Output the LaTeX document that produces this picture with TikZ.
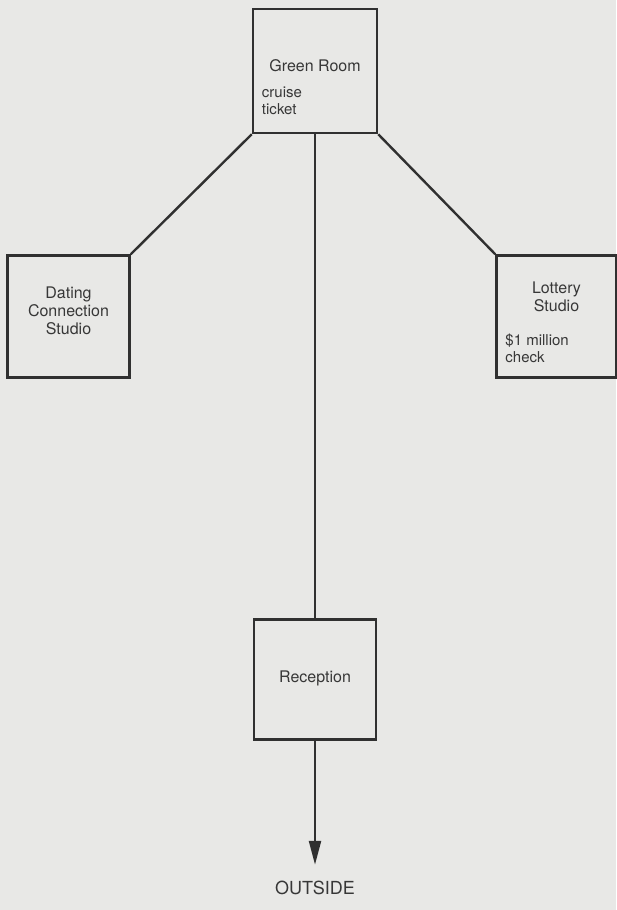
\documentclass[tikz,border=0pt]{standalone}
\usepackage{fontspec}
\setmainfont{TeX Gyre Heros}
\usetikzlibrary{arrows.meta, positioning}
\definecolor{scanbg}{RGB}{232,232,230}
\definecolor{inkgray}{RGB}{48,48,48}
\definecolor{txtgray}{RGB}{55,55,55}

\begin{document}
\begin{tikzpicture}[
    x=1pt, y=1pt,
    >={Triangle[length=24pt, width=12pt]},
    room/.style={draw=inkgray, line width=2.5pt, inner sep=0pt,
                 minimum width=122pt, minimum height=122pt},
    lbl/.style={font=\fontsize{16}{18}\selectfont, text=txtgray, align=center, inner sep=0pt},
    item/.style={font=\fontsize{15}{17}\selectfont, text=txtgray, align=left, inner sep=0pt},
    link/.style={draw=inkgray, line width=2.4pt},
]

% scanned page
\fill[scanbg] (0,0) rectangle (616,-910);
\useasboundingbox (0,0) rectangle (616,-910);

% rooms
\node[room, minimum width=124pt, minimum height=124pt] (green) at (315,-71) {};
\node[room, below left=120pt and 121pt of green] (dating) {};
\node[room, below right=120pt and 117pt of green, minimum width=120pt] (lottery) {};
\node[room, below=484pt of green, minimum height=120pt] (reception) {};
\coordinate (exit) at ([yshift=-124pt]reception.south);

% room texts
\node[lbl] (greenlbl) at ([yshift=5pt]green.center) {Green Room};
\node[item, anchor=north west] (cruise) at ([xshift=10pt,yshift=-16pt]green.west) {cruise\\ticket};
\node[lbl] (datinglbl) at ([yshift=6pt]dating.center) {Dating\\Connection\\Studio};
\node[lbl] (lotterylbl) at ([yshift=20pt]lottery.center) {Lottery\\Studio};
\node[item, anchor=north west] (check) at ([xshift=10pt,yshift=-17pt]lottery.west) {\$1 million\\check};
\node[lbl] (receptionlbl) at ([yshift=1pt]reception.center) {Reception};
\node[lbl, font=\fontsize{18}{20}\selectfont, below=16pt of exit] (outside) {OUTSIDE};

% connectors
\draw[link] (green.south west) -- (dating.north east);
\draw[link] (green.south east) -- (lottery.north west);
\draw[link] (green.south) -- (reception.north);
\draw[link, ->] (reception.south) -- (exit);

\end{tikzpicture}
\end{document}
